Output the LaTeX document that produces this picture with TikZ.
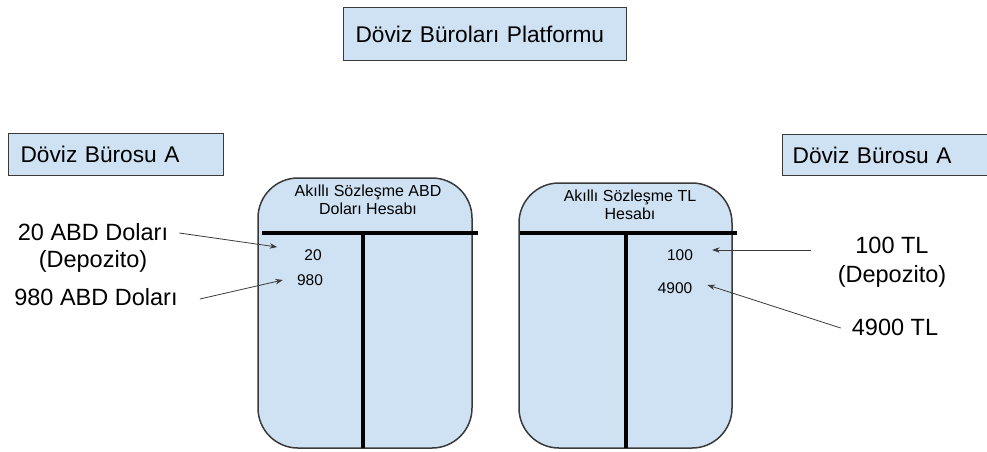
\documentclass[tikz,border=0pt]{standalone}
\usepackage{fontspec}
\setmainfont{Liberation Sans}
\usetikzlibrary{arrows.meta}

\definecolor{boxblue}{HTML}{CFE2F3}
\definecolor{boxline}{HTML}{3A3A3A}

\tikzset{
  namebox/.style={draw=boxline, fill=boxblue, line width=1.2pt, anchor=north west, inner xsep=12pt, inner ysep=0pt, align=left, font=\fontsize{22.7}{26}\selectfont},
  account/.style={draw=boxline, fill=boxblue, line width=1.5pt, rounded corners=40pt},
  tbar/.style={line width=4pt, black},
  sidelabel/.style={align=center, inner sep=0pt, font=\fontsize{23.5}{27}\selectfont},
  amount/.style={inner sep=1pt, font=\fontsize{15.5}{18}\selectfont},
  acctitle/.style={align=center, inner sep=0pt, font=\fontsize{16}{17.5}\selectfont},
  flow/.style={-{Stealth[length=7.5pt,width=5.5pt]}, line width=0.8pt, boxline}
}

\begin{document}
\begin{tikzpicture}[x=1pt, y=-1pt]
          \useasboundingbox (0,0) rectangle (987,451);

          \node [namebox, text width=259pt, minimum height=53pt] (platform) at (343,7) {Döviz Büroları Platformu};
          \node [namebox, text width=191pt, minimum height=42pt] (buroleft) at (8,133) {Döviz Bürosu A};
          \node [namebox, inner xsep=10pt, text width=200pt, minimum height=41pt] (buroright) at (782,134) {Döviz Bürosu A};

          \draw [account] (258,178) rectangle (472,448); % Draws the USD account
          \draw [account] (519,183) rectangle (732,448); % Draws the TL account

          \draw [tbar] (262,233) -- (478,233);
          \draw [tbar] (363,233) -- (363,448);
          \draw [tbar] (520,233) -- (737,233);
          \draw [tbar] (626,233) -- (626,448);

          \node [acctitle] (usdtitle) at (368,200) {Akıllı Sözleşme ABD\\Doları Hesabı};
          \node [acctitle] (tltitle) at (630,205) {Akıllı Sözleşme TL\\Hesabı};

          \node [amount] (usd20) at (313,255) {20};
          \node [amount] (usd980) at (310,280) {980};
          \node [amount] (tl100) at (680,255) {100};
          \node [amount] (tl4900) at (675,288) {4900};

          \node [sidelabel] (dep20) at (93,248) {20 ABD Doları\\(Depozito)};
          \node [sidelabel] (dep980) at (96,297) {980 ABD Doları};
          \node [sidelabel] (dep100) at (892,262) {100 TL\\[2pt](Depozito)};
          \node [sidelabel] (dep4900) at (895,327) {4900 TL};

          \draw [flow] ([shift={(11,-15)}]dep20.east) to ([shift={(-26,-8)}]usd20.west);
          \draw [flow] ([shift={(22,2)}]dep980.east) to ([shift={(-13,0)}]usd980.west);
          \draw [flow] ([shift={(-27,-12)}]dep100.west) to ([shift={(18,-5)}]tl100.east);
          \draw [flow] ([shift={(-11,1)}]dep4900.west) to ([shift={(14,-3)}]tl4900.east);
\end{tikzpicture}
\end{document}
